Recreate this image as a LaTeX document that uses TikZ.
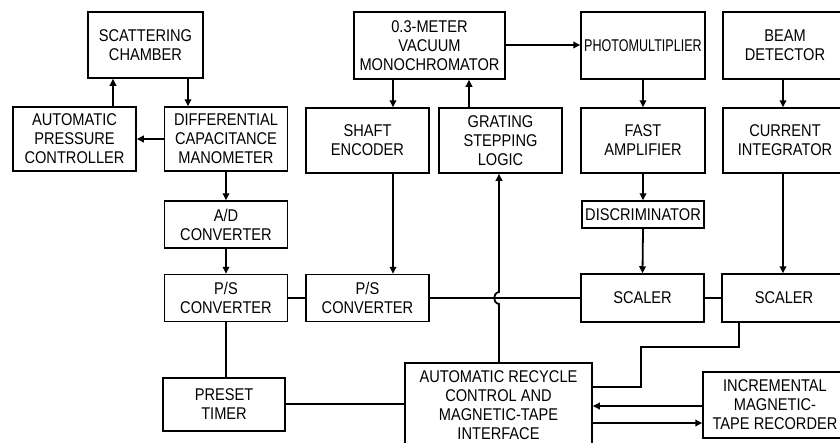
\documentclass[tikz,border=0pt]{standalone}
\usepackage{fontspec}
\setmainfont{Liberation Sans}[FakeStretch=0.86]
\usetikzlibrary{arrows.meta}
\begin{document}
\begin{tikzpicture}[x=1pt,y=-1pt, line width=1.8pt,
  box/.style={draw, line width=1.5pt, align=center, inner sep=0pt,
    font=\fontsize{17}{19}\selectfont},
  arr/.style={-{Triangle[length=7pt,width=6.5pt]}},
]
\useasboundingbox (0,0) rectangle (840,442);
\fill[white] (0,0) rectangle (840,442);
\clip (0,0) rectangle (840,442);
% left column
\node[box, minimum width=115pt, minimum height=66pt] (SC) at (145.5,45) {SCATTERING\\CHAMBER};
\node[box, minimum width=123pt, minimum height=64pt] (APC) at (74.5,139) {AUTOMATIC\\PRESSURE\\CONTROLLER};
\node[box, minimum width=123pt, minimum height=64pt] (DCM) at (226,139) {DIFFERENTIAL\\CAPACITANCE\\MANOMETER};
\node[box, minimum width=123pt, minimum height=47pt] (AD) at (226,224.5) {A/D\\CONVERTER};
\node[box, minimum width=123pt, minimum height=47pt] (PSA) at (226,298) {P/S\\CONVERTER};
\node[box, minimum width=122pt, minimum height=53pt] (PT) at (224,404.5) {PRESET\\TIMER};
% middle
\node[box, minimum width=151pt, minimum height=67pt] (MONO) at (429.5,45.5) {0.3-METER\\VACUUM\\MONOCHROMATOR};
\node[box, minimum width=123pt, minimum height=65pt] (SE) at (367.5,140.5) {SHAFT\\ENCODER};
\node[box, minimum width=123pt, minimum height=65pt] (GSL) at (500.5,140.5) {GRATING\\STEPPING\\LOGIC};
\node[box, minimum width=123pt, minimum height=47pt] (PSB) at (367.5,298) {P/S\\CONVERTER};
\node[box, minimum width=187pt, minimum height=84pt] (ARC) at (498.5,405) {AUTOMATIC RECYCLE\\CONTROL AND\\MAGNETIC-TAPE\\INTERFACE};
% right
\node[box, minimum width=124pt, minimum height=67pt] (PM) at (643,45.5) {\scalebox{0.86}[1]{PHOTOMULTIPLIER}};
\node[box, minimum width=124pt, minimum height=65pt] (FA) at (643,140.5) {FAST\\AMPLIFIER};
\node[box, minimum width=122pt, minimum height=27pt] (DISC) at (643,214.5) {DISCRIMINATOR};
\node[box, minimum width=123pt, minimum height=48pt] (SCA) at (642.5,298) {SCALER};
\node[box, minimum width=124pt, minimum height=67pt] (BD) at (785,45.5) {BEAM\\DETECTOR};
\node[box, minimum width=124pt, minimum height=65pt] (CI) at (785,140.5) {CURRENT\\INTEGRATOR};
\node[box, minimum width=124pt, minimum height=48pt] (SCB) at (784,298) {SCALER};
\node[box, minimum width=144pt, minimum height=66pt] (ITR) at (775,405) {INCREMENTAL\\MAGNETIC-\\TAPE RECORDER};
% connectors
\draw[arr] (APC.north -| 113,0) -- (SC.south -| 113,0);
\draw[arr] (SC.south -| 188,0) -- (DCM.north -| 188,0);
\draw[arr] (DCM.west) -- (APC.east);
\draw[arr] (DCM.south) -- (AD.north);
\draw[arr] (AD.south) -- (PSA.north);
\draw (PSA.south) -- (PSA.south |- PT.north);
\draw (PSA.east) -- (PSB.west);
\draw (PSB.east) -- (SCA.west);
\draw (SCA.east) -- (SCB.west);
\draw[arr] (MONO.south -| 393,0) -- (SE.north -| 393,0);
\draw[arr] (SE.south -| 393,0) -- (PSB.north -| 393,0);
\draw[arr] (GSL.north -| 469,0) -- (MONO.south -| 469,0);
\draw[arr] (MONO.east |- 0,45) -- (PM.west |- 0,45);
\draw[arr] (ARC.north -| 499,0) -- (499,304) .. controls (492.5,303) and (492.5,293) .. (499,292) -- (GSL.south -| 499,0);
\draw[arr] (PM.south) -- (FA.north);
\draw[arr] (FA.south) -- (DISC.north);
\draw[arr] (DISC.south) -- (SCA.north);
\draw[arr] (BD.south -| 783,0) -- (CI.north -| 783,0);
\draw[arr] (CI.south -| 783,0) -- (SCB.north -| 783,0);
\draw (SCB.south -| 739,0) -- (739,347) -- (641,347) -- (641,387) -- (ARC.east |- 0,387);
\draw (PT.east |- 0,404) -- (ARC.west |- 0,404);
\draw[arr] (ITR.west |- 0,406) -- (ARC.east |- 0,406);
\draw[arr] (ARC.east |- 0,423) -- (ITR.west |- 0,423);
\end{tikzpicture}
\end{document}
